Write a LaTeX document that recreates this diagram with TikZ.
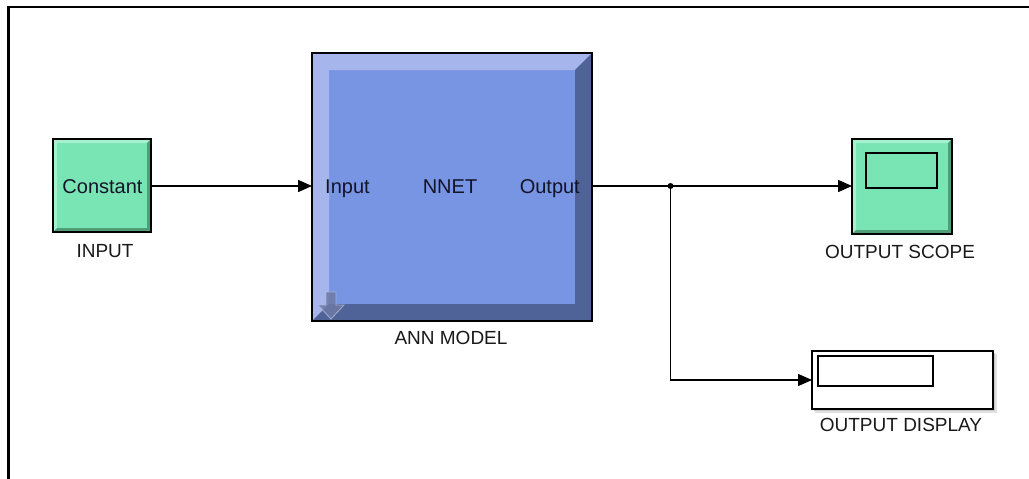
\documentclass[tikz,border=0pt]{standalone}
\usepackage{fontspec}
\setmainfont{Liberation Sans}
\usetikzlibrary{arrows.meta,calc}
\definecolor{gface}{RGB}{121,228,180}
\definecolor{glight}{RGB}{165,240,205}
\definecolor{gdark}{RGB}{78,158,120}
\definecolor{bface}{RGB}{120,149,227}
\definecolor{blight}{RGB}{166,182,237}
\definecolor{bdark}{RGB}{80,99,153}
\definecolor{txtdark}{RGB}{20,20,40}
\definecolor{lbl}{RGB}{25,25,25}
\newcommand\bevelfill[4]{%
  \fill[#3] (#1.north west) -- (#1.north east) -- ([shift={(-#2pt,-#2pt)}]#1.north east)
    -- ([shift={(#2pt,-#2pt)}]#1.north west) -- ([shift={(#2pt,#2pt)}]#1.south west)
    -- (#1.south west) -- cycle;
  \fill[#4] (#1.south east) -- (#1.north east) -- ([shift={(-#2pt,-#2pt)}]#1.north east)
    -- ([shift={(-#2pt,#2pt)}]#1.south east) -- ([shift={(#2pt,#2pt)}]#1.south west)
    -- (#1.south west) -- cycle;
  \draw[line width=1.3pt] (#1.north west) rectangle (#1.south east);
}
\begin{document}
\begin{tikzpicture}[x=1pt,y=-1pt,
  blk/.style={rectangle, inner sep=0pt, outer sep=0pt},
  txt/.style={inner sep=0pt, text=txtdark, font=\fontsize{20}{23}\selectfont},
  lab/.style={inner sep=0pt, text=lbl, font=\fontsize{19}{22}\selectfont},
  wire/.style={line width=1.5pt},
  arr/.style={wire, -{Triangle[length=14pt,width=12pt]}}]
\useasboundingbox (0,0) rectangle (1029,479);
\fill[white] (0,0) rectangle (1029,479);
\draw[line width=2.2pt] (8.5,482) -- (8.5,7) -- (1032,7);

% INPUT block
\node[blk, fill=gface, minimum width=98, minimum height=93] (inp) at (102,185.5) {};
\bevelfill{inp}{4}{glight}{gdark}
\node[txt, anchor=base] (cst) at (102.5,193) {Constant};
\node[lab] (inpl) at (105,251) {INPUT};

% ANN block
\node[blk, fill=bface, minimum width=280, minimum height=268] (ann) at (452,187) {};
\bevelfill{ann}{17}{blight}{bdark}
\filldraw[fill={rgb,255:red,110;green,122;blue,165}, draw={rgb,255:red,175;green,185;blue,215}, line width=0.8pt, opacity=0.85]
  (326,292) -- (336,292) -- (336,305) -- (344,305) -- (331,319) -- (318,305) -- (326,305) -- cycle;
\node[txt, anchor=base west] (pin) at (325,193) {Input};
\node[txt, anchor=base] (nnet) at (450,193) {NNET};
\node[txt, anchor=base east] (pout) at (580,193) {Output};
\node[lab] (annl) at (451,338) {ANN MODEL};

% OUTPUT SCOPE
\node[blk, fill=gface, minimum width=100, minimum height=95] (scope) at (902,186.5) {};
\bevelfill{scope}{4}{glight}{gdark}
\node[blk, draw, line width=1.3pt, fill=gface, minimum width=71, minimum height=35] (screen) at (901.5,170.5) {};
\node[lab] (scopel) at (900,252) {OUTPUT SCOPE};

% OUTPUT DISPLAY
\fill[black!12] (815,354) rectangle (997,413);
\fill[black!22] (814,353) rectangle (995,411);
\node[blk, draw, line width=1.3pt, fill=white, minimum width=181, minimum height=58] (disp) at (902.5,380) {};
\node[blk, draw, line width=1.3pt, fill=white, minimum width=115, minimum height=30] (dscreen) at (875.5,371) {};
\node[lab] (displ) at (901,425) {OUTPUT DISPLAY};

% connectors
\coordinate (br) at (670.5,186);
\draw[arr] (inp.east |- br) -- (ann.west |- br);
\draw[wire] (ann.east |- br) -- (br);
\draw[arr] (br) -- (scope.west |- br);
\draw[arr] (br) |- (disp.west);
\fill (br) circle (3);
\end{tikzpicture}
\end{document}
